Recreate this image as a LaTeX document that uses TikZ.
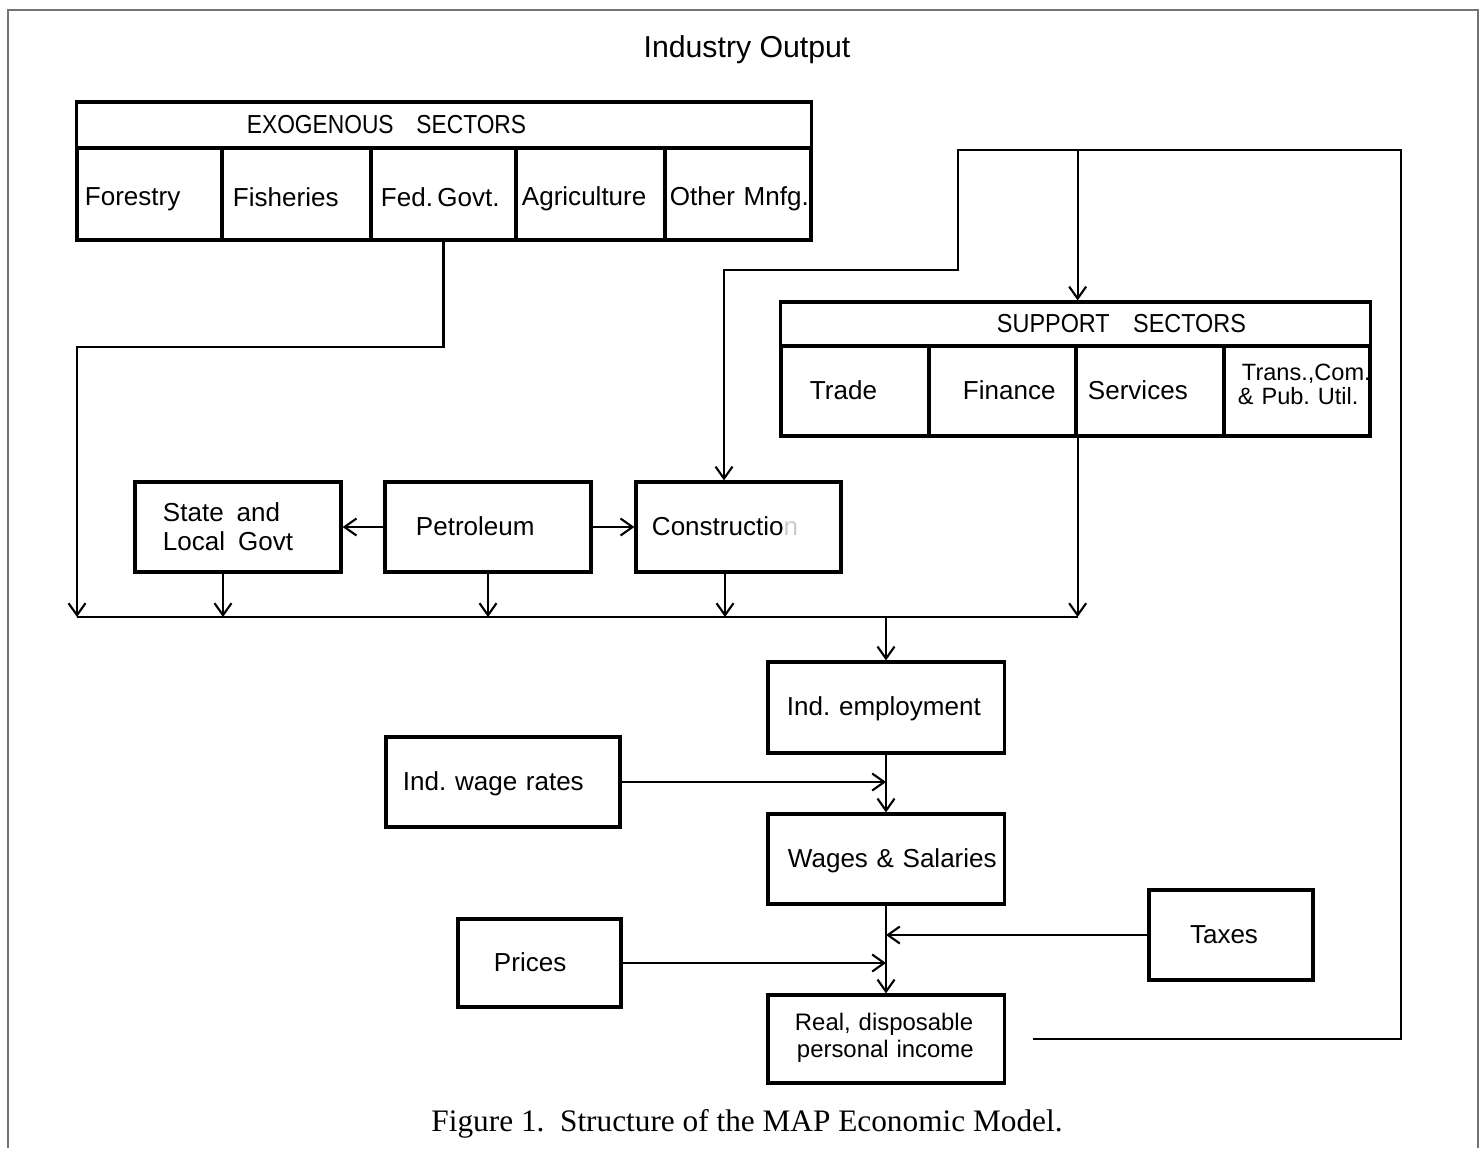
\documentclass[tikz,border=0pt]{standalone}
\usepackage{fontspec}
\usepackage{graphicx}
\setmainfont{Liberation Sans}
\newfontfamily\capfont{Liberation Serif}
\usetikzlibrary{arrows.meta}
\newcommand{\mytxt}[1]{\mbox{\rule[-1.16pt]{0pt}{7.3pt}#1}}
\newcommand{\mytxtlow}[1]{\mbox{\rule[-0.6pt]{0pt}{8.4pt}#1}}
\begin{document}
\frenchspacing
\begin{tikzpicture}[x=0.01cm,y=-0.01cm,
  bx/.style={draw, line width=0.9pt, align=left, inner ysep=0pt, font=\fontsize{7.4}{8.2}\selectfont\frenchspacing},
  conn/.style={line width=0.6pt},
  arr/.style={line width=0.6pt, -{Straight Barb[length=0.12cm,width=0.17cm]}},
  outerframe/.style={draw=black!55, line width=0.4pt}]
\useasboundingbox (0,0) rectangle (1483,1148);
% outer frame
\draw[outerframe] (8,1148) -- (8,10) -- (1478,10) -- (1478,1148);
% title and caption
\node[font=\fontsize{8.6}{10}\selectfont] (title) at (747,50) {Industry Output};
\node[font=\capfont\fontsize{8.9}{10}\selectfont\frenchspacing] (cap) at (747,1124) {Figure 1.\enspace Structure of the MAP Economic Model.};
% exogenous sectors
\node[bx, minimum width=7.34cm, minimum height=0.46cm, inner xsep=1.70cm, text width=3.94cm] (exoh) at (444,125) {\mytxt{\scalebox{0.875}[1]{EXOGENOUS\enspace\enspace SECTORS}}};
\node[bx, minimum width=1.45cm, minimum height=0.92cm, inner xsep=0.08cm, text width=1.29cm] (forestry) at (149.5,194) {\mytxtlow{Forestry}};
\node[bx, minimum width=1.49cm, minimum height=0.92cm, inner xsep=0.11cm, text width=1.27cm] (fisheries) at (296.5,194) {\mytxtlow{Fisheries}};
\node[bx, minimum width=1.45cm, minimum height=0.92cm, inner xsep=0.10cm, text width=1.25cm] (fed) at (443.5,194) {\mytxtlow{Fed.\,Govt.}};
\node[bx, minimum width=1.49cm, minimum height=0.92cm, inner xsep=0.06cm, text width=1.37cm] (agri) at (590.5,194) {\mytxtlow{Agriculture}};
\node[bx, minimum width=1.46cm, minimum height=0.92cm, inner xsep=0.05cm, text width=1.36cm] (other) at (738,194) {\mytxtlow{Other Mnfg.}};
% support sectors
\node[bx, minimum width=5.89cm, minimum height=0.44cm, inner xsep=2.16cm, text width=1.57cm] (suph) at (1075.5,324) {\mytxt{\scalebox{0.9}[1]{SUPPORT\enspace\enspace SECTORS}}};
\node[bx, minimum width=1.48cm, minimum height=0.90cm, inner xsep=0.29cm, text width=0.90cm] (trade) at (855,391) {\mytxt{Trade}};
\node[bx, minimum width=1.47cm, minimum height=0.90cm, inner xsep=0.34cm, text width=0.79cm] (fin) at (1002.5,391) {\mytxt{Finance}};
\node[bx, minimum width=1.48cm, minimum height=0.90cm, inner xsep=0.12cm, text width=1.24cm] (serv) at (1150,391) {\mytxt{Services}};
\node[bx, minimum width=1.46cm, minimum height=0.90cm, inner xsep=0.14cm, text width=1.18cm, font=\fontsize{6.7}{6.9}\selectfont\frenchspacing] (trans) at (1297,391) {\mbox{\hspace*{0.04cm}Trans.,Com.}\\\mbox{\& Pub. Util.\rule[-4pt]{0pt}{0pt}}};
% middle row
\node[bx, minimum width=2.06cm, minimum height=0.90cm, inner xsep=0.28cm, text width=1.50cm] (state) at (238,527) {\mbox{State\enspace and}\\\mbox{Local\enspace Govt}};
\node[bx, minimum width=2.06cm, minimum height=0.90cm, inner xsep=0.31cm, text width=1.44cm] (petro) at (488,527) {\mytxt{Petroleum}};
\node[bx, minimum width=2.05cm, minimum height=0.90cm, inner xsep=0.16cm, text width=1.73cm] (constr) at (738.5,527) {\mytxt{Constructio{\color{black!20}n}}};
% lower chain
\node[bx, minimum width=2.36cm, minimum height=0.91cm, inner xsep=0.19cm, text width=1.98cm] (emp) at (886,707.5) {\mytxt{Ind. employment}};
\node[bx, minimum width=2.34cm, minimum height=0.90cm, inner xsep=0.17cm, text width=2.00cm] (wr) at (503,782) {\mytxt{Ind. wage rates}};
\node[bx, minimum width=2.36cm, minimum height=0.90cm, inner xsep=0.20cm, text width=1.96cm] (wages) at (886,859) {\mytxt{Wages \& Salaries}};
\node[bx, minimum width=1.63cm, minimum height=0.88cm, inner xsep=0.36cm, text width=0.91cm] (prices) at (539.5,963) {\mytxt{Prices}};
\node[bx, minimum width=1.64cm, minimum height=0.90cm, inner xsep=0.41cm, text width=0.82cm] (taxes) at (1231,935) {\mytxt{Taxes}};
\node[bx, minimum width=2.36cm, minimum height=0.88cm, inner xsep=0.27cm, text width=1.82cm, font=\fontsize{6.8}{7.7}\selectfont\frenchspacing] (real) at (886,1039) {\mbox{Real, disposable}\\\mbox{\hspace*{0.02cm}personal income\rule[-2.3pt]{0pt}{0pt}}};
% coordinates
\coordinate (bL) at (77,617);
\coordinate (bR) at (fin.south east |- bL);
\coordinate (bM) at (emp.north |- bL);
\coordinate (fedturn) at (77,347);
\coordinate (loopR) at (1401,150);
\coordinate (loopL) at (958,150);
\coordinate (loopK) at (958,270);
% connectors
\draw[arr] (fed.south) |- (fedturn) -- (bL);
\draw[conn] (bL) -- (bR);
\draw[arr] ([xshift=-0.15cm]state.south) -- ([xshift=-0.15cm]state.south |- bL);
\draw[arr] (petro.south) -- (petro.south |- bL);
\draw[arr] ([xshift=-0.135cm]constr.south) -- ([xshift=-0.135cm]constr.south |- bL);
\draw[arr] (fin.south east) -- (bR);
\draw[arr] (bM) -- (emp.north);
\draw[arr] (emp.south) -- (wages.north);
\draw[arr] (wr.east) -- (wr.east -| emp.south);
\draw[arr] (wages.south) -- (real.north);
\draw[arr] (taxes.west) -- (taxes.west -| wages.south);
\draw[arr] (prices.east) -- (prices.east -| wages.south);
\draw[arr] (petro.west) -- (state.east);
\draw[arr] (petro.east) -- (constr.west);
\draw[arr] ([xshift=0.27cm]real.east) -| (loopR) -- (loopL) -- (loopK) -| ([xshift=-0.145cm]constr.north);
\draw[arr] (loopR -| fin.north east) -- (suph.north -| fin.north east);
\end{tikzpicture}
\end{document}
